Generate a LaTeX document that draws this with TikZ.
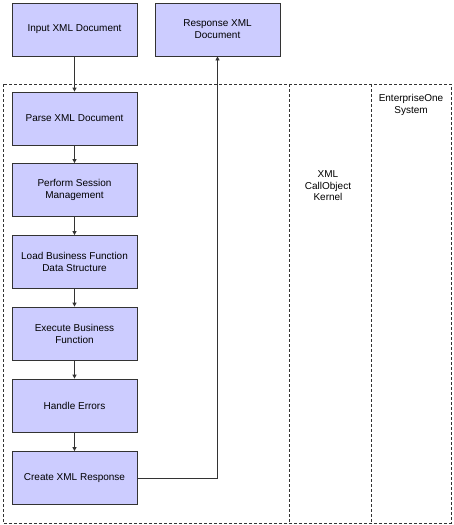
\documentclass[tikz,border=0pt]{standalone}
\usepackage{fontspec}
\setmainfont{Liberation Sans}
\usetikzlibrary{arrows.meta}
\definecolor{boxfill}{HTML}{CCCCFF}
\definecolor{edge}{HTML}{333333}
\begin{document}
\begin{tikzpicture}[x=1pt,y=-1pt,
  procbox/.style={draw=edge,fill=boxfill,line width=0.8pt,minimum width=125pt,minimum height=53pt,align=center,font=\fontsize{10}{12}\selectfont,inner sep=2pt},
  lane/.style={draw=edge,line width=0.7pt,dash pattern=on 3pt off 2pt},
  conn/.style={draw=edge,line width=0.8pt,-{Triangle[length=4pt,width=4pt]}},
  lbl/.style={align=center,font=\fontsize{10}{11.5}\selectfont}]
\useasboundingbox (0,0) rectangle (453,525);
% lanes
\draw[lane] (3,84) rectangle (451,523);
\draw[lane] (289,84) -- (289,523);
\draw[lane] (371,84) -- (371,523);
\node[lbl] (kern) at (328,186) {XML\\CallObject\\Kernel};
\node[lbl] (e1) at (411,105) {EnterpriseOne\\System};
% boxes
\node[procbox] (inp) at (74.5,29.5) {Input XML Document};
\node[procbox] (resp) at (217.5,29.5) {Response XML\\Document};
\node[procbox] (parse) at (74.5,118.5) {Parse XML Document};
\node[procbox] (sess) at (74.5,190) {Perform Session\\Management};
\node[procbox] (load) at (74.5,262) {Load Business Function\\Data Structure};
\node[procbox] (exec) at (74.5,333.5) {Execute Business\\Function};
\node[procbox] (err) at (74.5,405.5) {Handle Errors};
\node[procbox] (cre) at (74.5,478) {Create XML Response};
% connectors
\draw[conn] (inp) -- (parse);
\draw[conn] (parse) -- (sess);
\draw[conn] (sess) -- (load);
\draw[conn] (load) -- (exec);
\draw[conn] (exec) -- (err);
\draw[conn] (err) -- (cre);
\draw[conn] (cre.east) -| (resp.south);
\end{tikzpicture}
\end{document}
